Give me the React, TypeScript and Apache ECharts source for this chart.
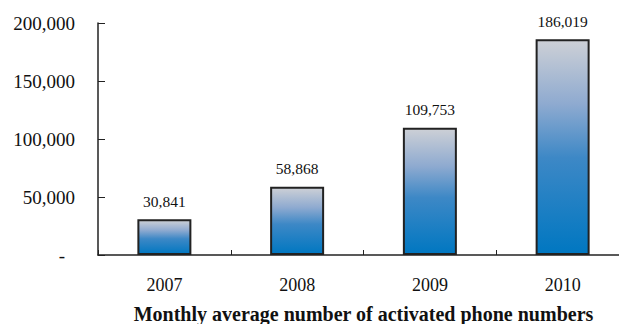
import React, { useEffect, useRef } from "react";
import * as echarts from "echarts";

const categories = ["2007", "2008", "2009", "2010"];
const values = [30841, 58868, 109753, 186019];
const axisTitle = "Monthly average number of activated phone numbers";

const fmt = (v: number) => v.toString().replace(/\B(?=(\d{3})+(?!\d))/g, ",");

export default function App() {
  const ref = useRef<HTMLDivElement>(null);
  useEffect(() => {
    if (!ref.current) return;
    const chart = echarts.init(ref.current, null, { renderer: "svg" });
    const serif = "'Liberation Serif', 'Times New Roman', serif";
    chart.setOption({
      animation: false,
      backgroundColor: "#ffffff",
      grid: { left: 98, top: 23, width: 531, height: 232, outerBoundsMode: "none", containLabel: false },
      xAxis: {
        type: "category",
        data: categories,
        name: axisTitle,
        nameLocation: "middle",
        nameGap: 49,
        nameTextStyle: { fontFamily: serif, fontSize: 20, fontWeight: "bold", color: "#111" },
        axisLine: { lineStyle: { color: "#222", width: 1.5 } },
        axisTick: { show: true, inside: true, length: 5, lineStyle: { color: "#222" } },
        axisLabel: { fontFamily: serif, fontSize: 18, color: "#111", margin: 21 },
      },
      yAxis: {
        type: "value",
        min: 0,
        max: 200000,
        interval: 50000,
        splitLine: { show: false },
        axisLine: { show: true, lineStyle: { color: "#222", width: 1.5 } },
        axisTick: { show: true, inside: true, length: 7, lineStyle: { color: "#222" } },
        axisLabel: {
          fontFamily: serif,
          fontSize: 19,
          color: "#111",
          margin: 23,
          formatter: (v: number) => (v === 0 ? "{d|-}" : fmt(v)),
          rich: { d: { fontFamily: serif, fontSize: 19, color: "#111", padding: [0, 10, 0, 0] } },
        },
      },
      series: [
        {
          type: "bar",
          data: values,
          barWidth: 54,
          itemStyle: {
            borderColor: "#222",
            borderWidth: 2,
            color: new echarts.graphic.LinearGradient(0, 0, 0, 1, [
              { offset: 0, color: "#cdd0d6" },
              { offset: 0.3, color: "#8eaad0" },
              { offset: 0.55, color: "#3d88c6" },
              { offset: 1, color: "#0077c1" },
            ]),
          },
          label: {
            show: true,
            position: "top",
            distance: 10,
            fontFamily: serif,
            fontSize: 15.5,
            color: "#111",
            formatter: (p: any) => fmt(p.value),
          },
        },
      ],
    });
    return () => chart.dispose();
  }, []);
  return <div ref={ref} style={{ width: 619, height: 324, position: "absolute", left: 0, top: 0 }} />;
}
